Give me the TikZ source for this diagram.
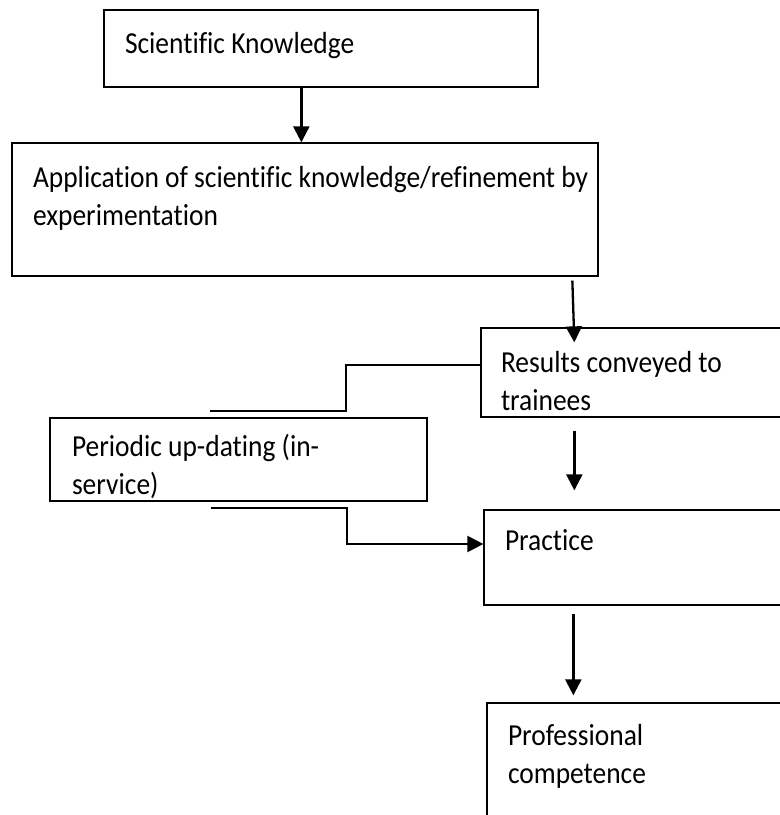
\documentclass[tikz,border=0pt]{standalone}
\usepackage{fontspec}
\setmainfont{Carlito}[Ligatures=NoCommon,FakeStretch=0.9]
\usetikzlibrary{arrows.meta,calc}

\begin{document}
\begin{tikzpicture}[x=1pt,y=1pt,line width=1.3pt,>={Triangle[length=16pt,width=16pt]},
  box/.style={draw,inner sep=0pt,line width=1.3pt},
  txt/.style={anchor=north west,inner sep=0pt,align=left,font=\fontsize{30.5}{38}\selectfont},
  link/.style={line width=2.3pt}]
\useasboundingbox (0,0) rectangle (780,815);
\clip (0,0) rectangle (780,815);
% 方框（右侧三个伸出画面）
\node[box,minimum width=434,minimum height=77] (sci) at (321,766.5) {};
\node[box,minimum width=586,minimum height=133] (app) at (305,605.5) {};
\node[box,minimum width=319,minimum height=89] (res) at (640.5,442.5) {};
\node[box,minimum width=377,minimum height=83] (upd) at (238.5,355.5) {};
\node[box,minimum width=316,minimum height=95] (prac) at (642,257.5) {};
\node[box,minimum width=313,minimum height=127] (prof) at (643.5,48.5) {};
% 文字
\node[txt] (sciT) at ($(sci.north west)+(21,-22)$) {Scientific Knowledge};
\node[txt] (appT) at ($(app.north west)+(21,-23)$) {Application of scientific knowledge/refinement by\\experimentation};
\node[txt] (resT) at ($(res.north west)+(20,-23)$) {Results conveyed to\\trainees};
\node[txt] (updT) at ($(upd.north west)+(22,-16)$) {Periodic up-dating (in-\\service)};
\node[txt] (pracT) at ($(prac.north west)+(21,-20)$) {Practice};
\node[txt] (profT) at ($(prof.north west)+(21,-21)$) {Professional\\competence};
% 主干箭头
\draw[link,->] ($(sci.south west)+(198,0)$) -- ($(app.north west)+(290,0)$);
\draw[link,->] ($(app.south west)+(561,-4)$) -- ($(res.north west)+(94,-15)$);
\draw[link,->] ($(res.south west)+(94,-13)$) -- ($(prac.north west)+(91,19)$);
\draw[link,->] ($(prac.south west)+(90,-8)$) -- ($(prof.north west)+(87,7)$);
% 在职更新的两条折线（左端悬空）
\coordinate (upIn) at (210,404);
\coordinate (upOut) at (211,307);
\draw[link] ($(res.west)+(0,7.5)$) -| (346,404) -- (upIn);
\draw[link,->] (upOut) -| (347,271) -- ($(prac.west)+(0,13.5)$);
\end{tikzpicture}
\end{document}
